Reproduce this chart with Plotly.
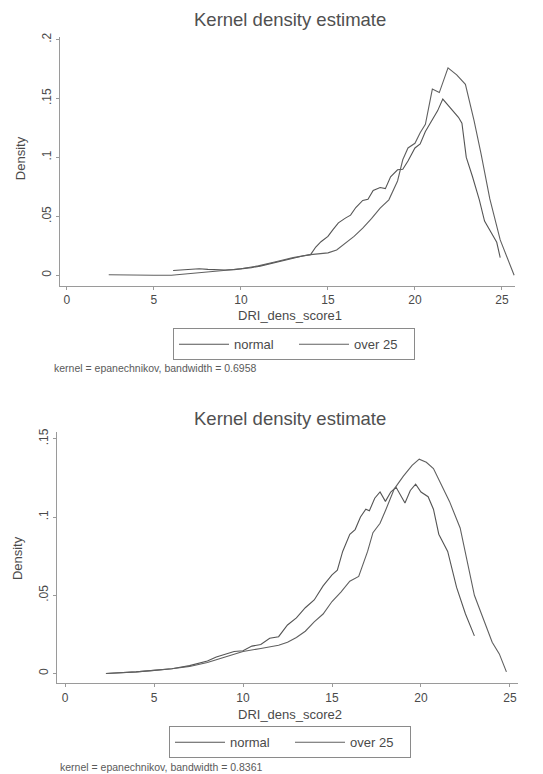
import plotly.graph_objects as go

W, H = 543, 774

# ---- data: top panel (DRI_dens_score1) ----
top_normal_x = [6.1, 6.6, 7.1, 7.6, 8.1, 8.6, 9.1, 9.6, 10.1, 10.6, 11.1, 11.6, 12.1, 12.6, 13.1,
                13.6, 14.0, 14.3, 14.6, 15.0, 15.3, 15.6, 16.0, 16.3, 16.6, 17.0, 17.3, 17.6,
                18.0, 18.3, 18.6, 19.0, 19.3, 19.6, 20.0, 20.3, 20.6, 21.0, 21.3, 21.6, 22.0,
                22.5, 22.7, 22.95, 23.3, 23.7, 24.0, 24.4, 24.7, 24.9]
top_normal_y = [0.004, 0.0045, 0.0052, 0.0055, 0.005, 0.0045, 0.0045, 0.0048, 0.0055, 0.0065,
                0.0078, 0.0095, 0.0115, 0.0135, 0.015, 0.0165, 0.0175, 0.024, 0.0285, 0.033,
                0.039, 0.0445, 0.0485, 0.051, 0.0575, 0.0635, 0.0645, 0.072, 0.0745, 0.0735,
                0.0835, 0.0895, 0.09, 0.097, 0.108, 0.1115, 0.122, 0.1325, 0.1395, 0.1495,
                0.143, 0.134, 0.129, 0.100, 0.084, 0.064, 0.046, 0.036, 0.028, 0.015]

top_over_x = [2.4, 3, 4, 5, 6, 7, 8, 9, 10, 11, 12, 13, 14, 14.5, 15, 15.5, 16, 16.5, 17,
              17.5, 18, 18.5, 19, 19.3, 19.6, 20, 20.3, 20.6, 21.0, 21.4, 21.9, 22.4, 22.9,
              23.4, 23.8, 24.3, 24.9, 25.7]
top_over_y = [0.0005, 0.0003, 0.0002, 0.0, 0.0, 0.0012, 0.003, 0.004, 0.0055, 0.008, 0.0115,
              0.015, 0.0175, 0.018, 0.019, 0.0215, 0.027, 0.033, 0.04, 0.048, 0.057, 0.064,
              0.08, 0.098, 0.108, 0.112, 0.121, 0.128, 0.158, 0.155, 0.176, 0.17, 0.162,
              0.131, 0.103, 0.065, 0.03, 0.0]

# ---- data: bottom panel (DRI_dens_score2) ----
bot_normal_x = [2.3, 3, 4, 5, 6, 7, 8, 8.5, 9, 9.5, 10, 10.5, 11, 11.5, 12, 12.5, 13, 13.5,
                14, 14.5, 15, 15.3, 15.6, 16, 16.3, 16.6, 16.9, 17.1, 17.4, 17.7, 18.0, 18.3,
                18.6, 18.9, 19.1, 19.4, 19.7, 20.0, 20.4, 20.7, 21.0, 21.5, 22.0, 22.5, 23.0]
bot_normal_y = [0.0, 0.0003, 0.001, 0.002, 0.003, 0.005, 0.008, 0.0105, 0.0125, 0.014, 0.0145,
                0.0175, 0.0185, 0.0225, 0.0235, 0.031, 0.0355, 0.042, 0.047, 0.056, 0.063,
                0.066, 0.078, 0.089, 0.092, 0.1, 0.105, 0.104, 0.112, 0.116, 0.11, 0.116,
                0.119, 0.113, 0.109, 0.117, 0.121, 0.116, 0.113, 0.105, 0.089, 0.078, 0.055,
                0.038, 0.024]

bot_over_x = [2.3, 3, 4, 5, 6, 7, 8, 9, 10, 11, 12, 12.5, 13, 13.5, 14, 14.5, 15, 15.5, 16,
              16.5, 17, 17.3, 17.7, 18, 18.5, 19, 19.5, 19.9, 20.3, 20.7, 21.1, 21.6, 22.2,
              22.6, 23.0, 23.5, 24.0, 24.4, 24.8]
bot_over_y = [0.0, 0.0003, 0.001, 0.002, 0.003, 0.0045, 0.007, 0.0105, 0.014, 0.016, 0.018,
              0.02, 0.023, 0.027, 0.033, 0.038, 0.046, 0.052, 0.059, 0.062, 0.078, 0.09,
              0.096, 0.104, 0.118, 0.126, 0.133, 0.137, 0.135, 0.131, 0.122, 0.11, 0.093,
              0.072, 0.05, 0.035, 0.02, 0.0125, 0.001]

x_ticks = [0, 5, 10, 15, 20, 25]
top_y_ticks = [0, 0.05, 0.1, 0.15, 0.2]
top_y_labels = ["0", ".05", ".1", ".15", ".2"]
bot_y_ticks = [0, 0.05, 0.1, 0.15]
bot_y_labels = ["0", ".05", ".1", ".15"]
series_names = ["normal", "over 25"]
title_text = "Kernel density estimate"
top_xtitle = "DRI_dens_score1"
bot_xtitle = "DRI_dens_score2"
top_note = "kernel = epanechnikov, bandwidth = 0.6958"
bot_note = "kernel = epanechnikov, bandwidth = 0.8361"

FONT = "Liberation Sans, Arial, sans-serif"
TXT = "#4a4a4a"
LINE_COLORS = ["#555555", "#606060"]
AXC = "#9a9a9a"

fig = go.Figure()
for xs, ys, name, col in [(top_normal_x, top_normal_y, series_names[0], LINE_COLORS[0]),
                          (top_over_x, top_over_y, series_names[1], LINE_COLORS[1])]:
    fig.add_trace(go.Scatter(x=xs, y=ys, mode="lines", name=name,
                             line=dict(color=col, width=1.1), xaxis="x", yaxis="y",
                             legend="legend"))
for xs, ys, name, col in [(bot_normal_x, bot_normal_y, series_names[0], LINE_COLORS[0]),
                          (bot_over_x, bot_over_y, series_names[1], LINE_COLORS[1])]:
    fig.add_trace(go.Scatter(x=xs, y=ys, mode="lines", name=name,
                             line=dict(color=col, width=1.1), xaxis="x2", yaxis="y2",
                             legend="legend2"))

def px_x(p):
    return p / W

def px_y(p):
    return 1 - p / H

axis_common = dict(showgrid=False, zeroline=False, showline=True, linecolor=AXC, linewidth=1,
                   ticks="outside", ticklen=3, tickcolor=AXC, mirror=False,
                   tickfont=dict(family=FONT, size=12, color=TXT))

legend_common = dict(orientation="h", xanchor="left", yanchor="top",
                     bordercolor="#8a8a8a", borderwidth=1, bgcolor="white",
                     font=dict(family=FONT, size=13, color=TXT),
                     itemwidth=50, entrywidth=55, tracegroupgap=0)

fig.update_layout(
    width=W, height=H, margin=dict(l=0, r=0, t=0, b=0),
    paper_bgcolor="white", plot_bgcolor="white",
    font=dict(family=FONT, color=TXT),
    xaxis=dict(domain=[px_x(60), px_x(515)], range=[-0.40, 25.75], tickvals=x_ticks,
               anchor="y", **axis_common),
    yaxis=dict(domain=[px_y(283), px_y(33)], range=[-0.0087, 0.2023], tickvals=top_y_ticks,
               ticktext=top_y_labels, tickangle=-90, anchor="x", **axis_common),
    xaxis2=dict(domain=[px_x(57), px_x(518)], range=[-0.45, 25.45], tickvals=x_ticks,
                anchor="y2", **axis_common),
    yaxis2=dict(domain=[px_y(683), px_y(430)], range=[-0.0064, 0.1545], tickvals=bot_y_ticks,
                ticktext=bot_y_labels, tickangle=-90, anchor="x2", **axis_common),
    legend=dict(x=px_x(173), y=px_y(326), **legend_common),
    legend2=dict(x=px_x(169), y=px_y(726), **legend_common),
    showlegend=True,
)

ann = []
for cx, cy, t in [(290, 16, title_text), (290, 417, title_text)]:
    ann.append(dict(x=px_x(cx), y=px_y(cy), xref="paper", yref="paper", text=t,
                    showarrow=False, xanchor="center", yanchor="middle",
                    font=dict(family=FONT, size=18.5, color="#505050")))
for cx, cy, t in [(290, 313, top_xtitle), (290, 714, bot_xtitle)]:
    ann.append(dict(x=px_x(cx), y=px_y(cy), xref="paper", yref="paper", text=t,
                    showarrow=False, xanchor="center", yanchor="middle",
                    font=dict(family=FONT, size=13, color=TXT)))
for cx, cy in [(20, 155), (17, 557)]:
    ann.append(dict(x=px_x(cx), y=px_y(cy), xref="paper", yref="paper", text="Density",
                    showarrow=False, xanchor="center", yanchor="middle", textangle=-90,
                    font=dict(family=FONT, size=13, color=TXT)))
for lx, cy, t in [(52, 366, top_note), (58, 767, bot_note)]:
    ann.append(dict(x=px_x(lx), y=px_y(cy), xref="paper", yref="paper", text=t,
                    showarrow=False, xanchor="left", yanchor="middle",
                    font=dict(family=FONT, size=10.5, color="#5a5a5a")))
fig.update_layout(annotations=ann)

fig.write_html("out.html")
